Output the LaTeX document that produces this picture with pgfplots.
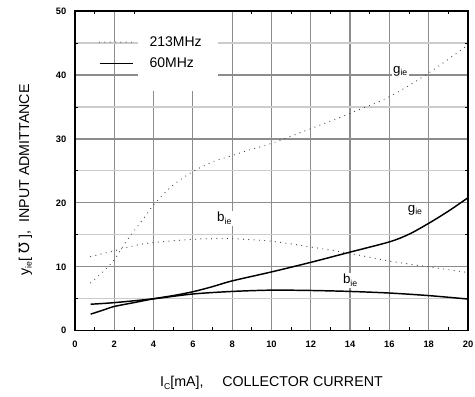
\documentclass[border=0pt]{standalone}
\usepackage{fontspec}
\setmainfont{Liberation Sans}
\newfontfamily\djv{DejaVu Sans}
\usepackage{pgfplots}
\pgfplotsset{compat=1.18}
\newcommand{\sub}[1]{\raisebox{-0.35ex}{\fontsize{6.5}{7}\selectfont #1}}
\begin{document}
\begin{tikzpicture}
\begin{axis}[
  scale only axis, width=295pt, height=240pt,
  xmin=0, xmax=20, ymin=0, ymax=50,
  xtick={0,2,...,20}, ytick={0,10,...,50},
  minor x tick num=1, minor y tick num=1,
  xmajorgrids, ymajorgrids, yminorgrids,
  major grid style={black!45, line width=0.9pt},
  minor grid style={black!20, line width=0.9pt},
  tick align=inside, major tick length=0pt, minor tick length=2.5pt,
  tick style={black, line width=0.6pt},
  axis line style={black, line width=1pt},
  /pgf/number format/assume math mode=true,
  ticklabel style={font=\fontsize{7}{8}\selectfont\bfseries},
  xticklabel style={yshift=-4.5pt},
  yticklabel style={xshift=-3pt},
  xlabel={I\sub{C}[mA],\hspace{14pt}COLLECTOR CURRENT},
  ylabel={y\sub{ie}[\hspace{3pt}{\djv ℧}\hspace{3pt}],\hspace{6pt}INPUT ADMITTANCE},
  label style={font=\fontsize{10.7}{12}\selectfont},
  xlabel style={at={(axis description cs:0.5,0)}, anchor=center, yshift=-39pt},
  ylabel style={at={(axis description cs:-0.126,0.472)}, anchor=center, rotate=0},
  legend style={draw=none, fill=none, at={(axis cs:1.2,46.3)}, anchor=north west,
    font=\fontsize{10.5}{12}\selectfont, row sep=5pt, column sep=11pt, inner sep=0pt,
    nodes={inner sep=1pt}},
  legend cell align=left,
  legend image code/.code={\draw[#1] (0pt,0pt) -- (25pt,0pt);},
  dotted213/.style={black!75, line width=0.9pt, line cap=round, dash pattern=on 0pt off 4pt},
  solid60/.style={black, line width=1.1pt},
]
\fill[white] (axis cs:3.2,37.5) rectangle (axis cs:7.28,49.85);
% 213 MHz g_ie
\addplot[dotted213, smooth] coordinates {
 (0.8,7.5) (1.45,9.3) (2,11.1) (2.5,13.5) (3,15.6) (3.5,17.6) (4,19.7) (4.4,21.0) (5,22.8) (6,24.9) (7,26.4) (8,27.4) (9,28.4) (10,29.3) (12,31.6) (14,34.0) (16,36.6) (18,40.3) (20,44.7)
};
\addlegendentry{213MHz}
% 60 MHz g_ie
\addplot[solid60, smooth] coordinates {
 (0.8,2.6) (1.5,3.3) (2,3.8) (3,4.4) (4,5.0) (5,5.5) (6,6.1) (7,6.9) (8,7.8) (10,9.2) (12,10.7) (14,12.3) (16,13.9) (17,15.1) (18,16.8) (19,18.7) (20,20.8)
};
\addlegendentry{60MHz}
% 213 MHz b_ie
\addplot[dotted213, smooth] coordinates {
 (0.8,11.6) (2,12.5) (3,13.3) (4,13.8) (6,14.3) (7,14.4) (8,14.4) (10,14.0) (12,13.1) (14,12.1) (16,10.9) (18,10.0) (20,9.1)
};
% 60 MHz b_ie
\addplot[solid60, smooth] coordinates {
 (0.8,4.15) (2,4.4) (4,5.0) (6,5.75) (8,6.15) (10,6.35) (12,6.3) (14,6.15) (16,5.9) (18,5.5) (20,4.96)
};
\node[fill=white, inner sep=1pt, font=\fontsize{10}{12}\selectfont] at (axis cs:16.55,40.6) {g\sub{ie}};
\node[fill=white, inner sep=1pt, font=\fontsize{10}{12}\selectfont] at (axis cs:7.6,17.6) {b\sub{ie}};
\node[fill=white, inner sep=1pt, font=\fontsize{10}{12}\selectfont] at (axis cs:17.3,18.9) {g\sub{ie}};
\node[fill=white, inner sep=1pt, font=\fontsize{10}{12}\selectfont] at (axis cs:14.0,7.9) {b\sub{ie}};
\end{axis}
\pgfresetboundingbox
\path[use as bounding box] ([xshift=-56.25pt,yshift=-49pt]current axis.south west) rectangle ([xshift=5.25pt,yshift=8.25pt]current axis.north east);
\end{tikzpicture}
\end{document}
